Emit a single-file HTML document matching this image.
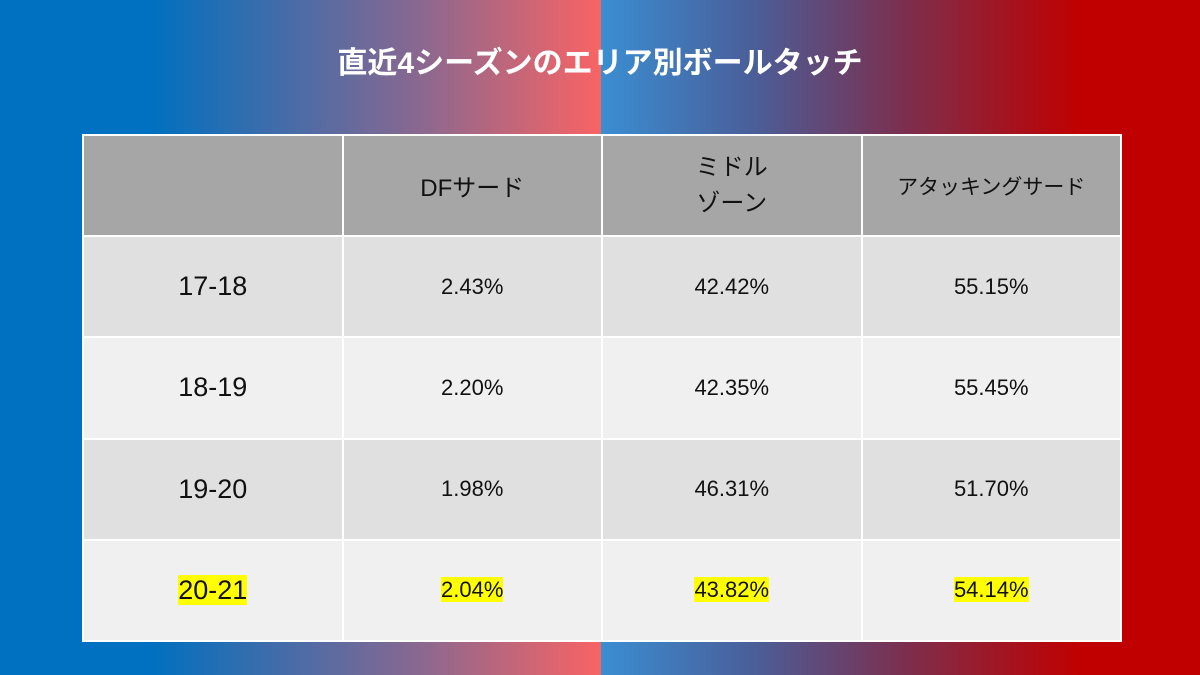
<!DOCTYPE html>
<html><head><meta charset="utf-8"><style>
body{margin:0;width:1200px;height:675px;overflow:hidden;font-family:"Liberation Sans","Noto Sans CJK JP",sans-serif;position:relative;}
.bgl{position:absolute;left:0;top:0;width:601px;height:675px;background:linear-gradient(90deg,#0070C0 0px,#0070C0 150px,#8A6890 420px,#F86464 601px);}
.bgr{position:absolute;left:601px;top:0;width:599px;height:675px;background:linear-gradient(90deg,#3A8ED2 0px,#4A5F9A 150px,#7A3050 300px,#C00000 480px,#C00000 599px);}
h1{position:absolute;left:0;top:38px;width:1200px;text-align:center;margin:0;color:#fff;font-size:30px;font-weight:bold;}
table{position:absolute;left:82px;top:134px;width:1040px;height:508px;border-collapse:collapse;table-layout:fixed;}
td{border:2px solid #fff;text-align:center;color:#111;font-size:22px;}
tr.h td{background:#A6A6A6;height:97px;font-size:24px;}
tr.a td{background:#E0E0E0;}
tr.b td{background:#F0F0F0;}
td.s{font-size:27px;}
.hl{background:#FFFF00;}
</style></head><body>
<div class="bgl"></div>
<div class="bgr"></div>
<h1>直近4シーズンのエリア別ボールタッチ</h1>
<table>
<tr class="h"><td></td><td>DFサード</td><td style="line-height:36px">ミドル<br>ゾーン</td><td style="font-size:21px">アタッキングサード</td></tr>
<tr class="a"><td class="s">17-18</td><td>2.43%</td><td>42.42%</td><td>55.15%</td></tr>
<tr class="b"><td class="s">18-19</td><td>2.20%</td><td>42.35%</td><td>55.45%</td></tr>
<tr class="a"><td class="s">19-20</td><td>1.98%</td><td>46.31%</td><td>51.70%</td></tr>
<tr class="b"><td class="s"><span class="hl">20-21</span></td><td><span class="hl">2.04%</span></td><td><span class="hl">43.82%</span></td><td><span class="hl">54.14%</span></td></tr>
</table>
</body></html>
